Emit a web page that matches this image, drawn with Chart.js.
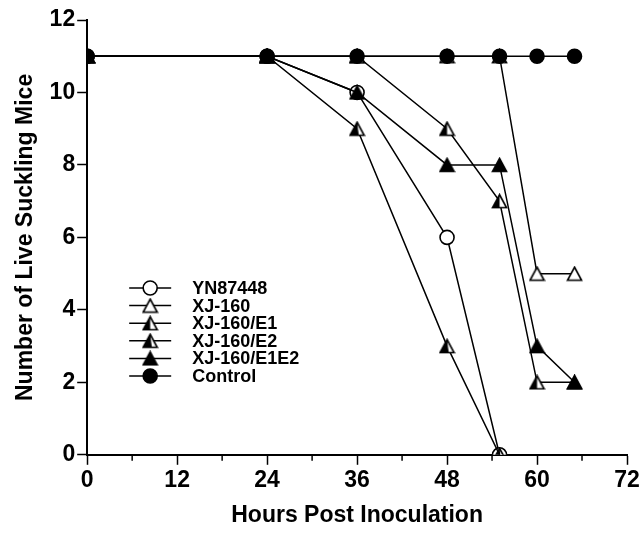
<!DOCTYPE html>
<html>
<head>
<meta charset="utf-8">
<script src="https://cdn.jsdelivr.net/npm/chart.js@4/dist/chart.umd.min.js"></script>
<style>
  html, body { margin: 0; padding: 0; background: #fff; }
  #wrap { width: 642px; height: 534px; }
</style>
</head>
<body>
<div id="wrap"><canvas id="survival" width="642" height="534"></canvas></div>
<script>
const hours = [0, 24, 36, 48, 55, 60, 65]
const yn87448 = [11, 11, 10, 6, 0, null, null]
const xj160 = [11, 11, 11, 11, 11, 5, 5]
const xj160E1 = [11, 11, 11, 9, 7, 2, 2]
const xj160E2 = [11, 11, 9, 3, 0, null, null]
const xj160E1E2 = [11, 11, 10, 8, 8, 3, 2]
const control = [11, 11, 11, 11, 11, 11, 11]
const seriesNames = ['YN87448', 'XJ-160', 'XJ-160/E1', 'XJ-160/E2', 'XJ-160/E1E2', 'Control']
const xTickLabels = [0, 12, 24, 36, 48, 60, 72]
const yTickLabels = [0, 2, 4, 6, 8, 10, 12]

const FONT = "'Liberation Sans', Arial, sans-serif"

// triangle markers drawn on small canvases: none / left part filled / full
function triangle(fillPart) {
  const c = document.createElement('canvas')
  c.width = 17
  c.height = 16
  const g = c.getContext('2d')
  const top = [8.5, 1.5], bl = [1.5, 14.5], br = [15.5, 14.5]
  g.beginPath()
  g.moveTo(...top); g.lineTo(...br); g.lineTo(...bl); g.closePath()
  g.fillStyle = '#fff'
  g.fill()
  if (fillPart > 0) {
    const mx = bl[0] + (br[0] - bl[0]) * fillPart
    g.beginPath()
    if (fillPart >= 1) {
      g.moveTo(...top); g.lineTo(...br); g.lineTo(...bl)
    } else {
      g.moveTo(...top); g.lineTo(mx, bl[1]); g.lineTo(...bl)
    }
    g.closePath()
    g.fillStyle = '#000'
    g.fill()
  }
  g.beginPath()
  g.moveTo(...top); g.lineTo(...br); g.lineTo(...bl); g.closePath()
  g.lineWidth = 1.6
  g.strokeStyle = '#000'
  g.stroke()
  return c
}

const markers = [
  { style: 'circle', bg: '#fff' },
  { style: triangle(0) },
  { style: triangle(0.5) },
  { style: triangle(0.62) },
  { style: triangle(1) },
  { style: 'circle', bg: '#000' }
]
const seriesValues = [yn87448, xj160, xj160E1, xj160E2, xj160E1E2, control]
// control on top, YN87448 at the bottom
const drawOrder = [5, 4, 3, 2, 1, 0]

const datasets = seriesValues.map((vals, i) => ({
  label: seriesNames[i],
  data: hours.map((h, j) => ({ x: h, y: vals[j] })).filter(p => p.y !== null),
  borderColor: '#000',
  borderWidth: 1.5,
  pointStyle: markers[i].style,
  pointRadius: 7,
  pointBackgroundColor: markers[i].bg || '#000',
  pointBorderColor: '#000',
  pointBorderWidth: 1.6,
  tension: 0,
  fill: false,
  order: drawOrder[i]
}))

// minor x ticks are shorter than labelled ones
const minorTicks = {
  id: 'minorTicks',
  afterDraw(chart) {
    const xs = chart.scales.x
    const ctx = chart.ctx
    ctx.save()
    ctx.strokeStyle = '#000'
    ctx.lineWidth = 1.5
    xs.ticks.forEach(t => {
      if (t.value % 12 === 0) return
      const px = xs.getPixelForValue(t.value)
      ctx.beginPath()
      ctx.moveTo(px, xs.top)
      ctx.lineTo(px, xs.top + 6)
      ctx.stroke()
    })
    ctx.restore()
  }
}

// legend sits inside the plot, marker crossed by a short line
const insideLegend = {
  id: 'insideLegend',
  afterDraw(chart) {
    const { ctx, chartArea } = chart
    const x0 = chartArea.left + 42
    const y0 = chartArea.top + 268
    ctx.save()
    ctx.font = `bold 18px ${FONT}`
    ctx.textBaseline = 'middle'
    chart.data.datasets.forEach((ds, i) => {
      const y = y0 + i * 17.6
      const cx = x0 + 21
      ctx.strokeStyle = '#000'
      ctx.lineWidth = 1.5
      ctx.beginPath()
      ctx.moveTo(x0, y)
      ctx.lineTo(x0 + 42, y)
      ctx.stroke()
      if (ds.pointStyle === 'circle') {
        ctx.beginPath()
        ctx.arc(cx, y, 7, 0, Math.PI * 2)
        ctx.fillStyle = ds.pointBackgroundColor
        ctx.fill()
        ctx.lineWidth = 1.6
        ctx.stroke()
      } else {
        const img = ds.pointStyle
        ctx.drawImage(img, cx - img.width / 2, y - img.height / 2)
      }
      ctx.fillStyle = '#000'
      ctx.fillText(ds.label, x0 + 63, y + 1)
    })
    ctx.restore()
  }
}

new Chart(document.getElementById('survival'), {
  type: 'line',
  data: { datasets },
  options: {
    responsive: false,
    animation: false,
    devicePixelRatio: 1,
    layout: { padding: { top: 20, right: 15, left: 12, bottom: 5 } },
    plugins: { legend: { display: false }, tooltip: { enabled: false } },
    scales: {
      x: {
        type: 'linear',
        min: 0,
        max: 72,
        ticks: {
          stepSize: 6,
          autoSkip: false,
          maxRotation: 0,
          color: '#000',
          padding: 2,
          font: { family: FONT, size: 23, weight: 'bold' },
          callback: v => xTickLabels.includes(v) ? v : ''
        },
        grid: {
          drawOnChartArea: false,
          tickLength: 10,
          tickWidth: 1.5,
          tickColor: c => (c.tick && c.tick.value % 12 === 0) ? '#000' : 'rgba(0,0,0,0)'
        },
        border: { color: '#000', width: 2 },
        title: {
          display: true,
          text: 'Hours Post Inoculation',
          color: '#000',
          padding: { top: 5, bottom: 0 },
          font: { family: FONT, size: 23, weight: 'bold' }
        }
      },
      y: {
        min: 0,
        max: 12,
        ticks: {
          stepSize: 2,
          color: '#000',
          padding: 2,
          font: { family: FONT, size: 23, weight: 'bold' },
          callback: v => yTickLabels.includes(v) ? v : ''
        },
        grid: {
          drawOnChartArea: false,
          tickLength: 10,
          tickWidth: 1.5,
          tickColor: '#000'
        },
        border: { color: '#000', width: 2 },
        title: {
          display: true,
          text: 'Number of Live Suckling Mice',
          color: '#000',
          padding: { top: 0, bottom: 8 },
          font: { family: FONT, size: 23, weight: 'bold' }
        }
      }
    }
  },
  plugins: [minorTicks, insideLegend]
})
</script>
</body>
</html>
